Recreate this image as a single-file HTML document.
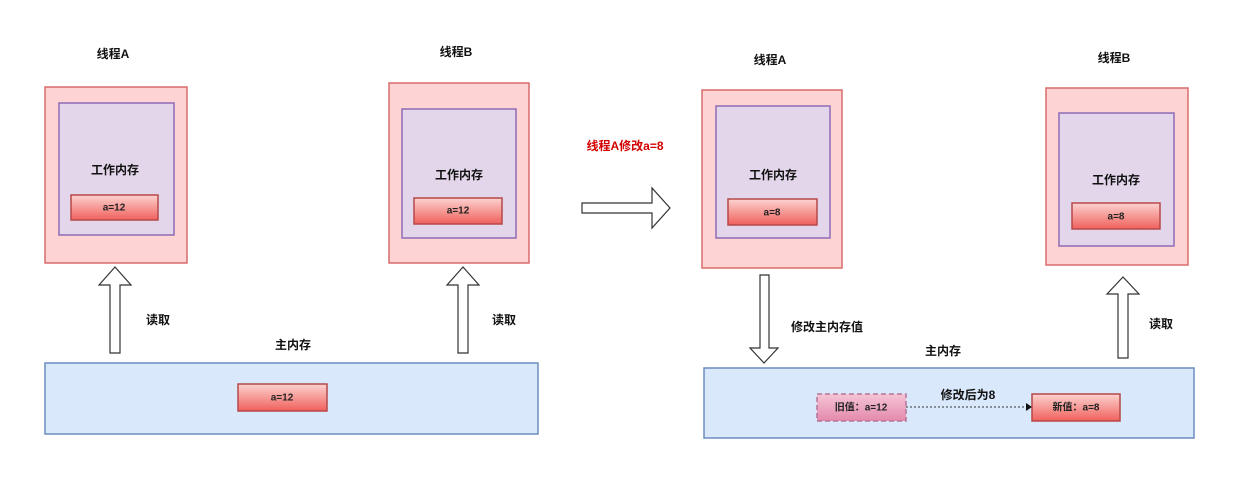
<!DOCTYPE html>
<html><head><meta charset="utf-8"><style>
html,body{margin:0;padding:0;background:#fff;}
svg{display:block;}
text{font-family:"Liberation Sans","Noto Sans CJK SC",sans-serif;font-weight:bold;font-size:12px;fill:#111;text-anchor:middle;dominant-baseline:middle;}
.v{font-size:10px;fill:#222;}
</style></head><body>
<svg width="1240" height="484" viewBox="0 0 1240 484" xmlns="http://www.w3.org/2000/svg">
<defs>
<linearGradient id="rg" x1="0" y1="0" x2="0" y2="1"><stop offset="0" stop-color="#fcd3d0"/><stop offset="1" stop-color="#f0605c"/></linearGradient>
<linearGradient id="pg" x1="0" y1="0" x2="0" y2="1"><stop offset="0" stop-color="#f5c5d6"/><stop offset="1" stop-color="#e489ad"/></linearGradient>
</defs>
<g stroke-width="1.5">
<!-- left thread A -->
<rect x="45" y="87" width="142" height="176" fill="#fdd3d3" stroke="#d86b6b"/>
<rect x="59" y="103" width="115" height="132" fill="#e3d6ea" stroke="#8e6bb5"/>
<rect x="71" y="195" width="87" height="25" fill="url(#rg)" stroke="#b54848"/>
<!-- left thread B -->
<rect x="389" y="83" width="140" height="180" fill="#fdd3d3" stroke="#d86b6b"/>
<rect x="402" y="109" width="114" height="129" fill="#e3d6ea" stroke="#8e6bb5"/>
<rect x="414" y="198" width="88" height="26" fill="url(#rg)" stroke="#b54848"/>
<!-- left main -->
<rect x="45" y="363" width="493" height="71" fill="#dae8fc" stroke="#6c8ebf"/>
<rect x="238" y="384" width="89" height="27" fill="url(#rg)" stroke="#b54848"/>
<!-- right thread A -->
<rect x="702" y="90" width="140" height="178" fill="#fdd3d3" stroke="#d86b6b"/>
<rect x="716" y="106" width="114" height="132" fill="#e3d6ea" stroke="#8e6bb5"/>
<rect x="728" y="199" width="89" height="26" fill="url(#rg)" stroke="#b54848"/>
<!-- right thread B -->
<rect x="1046" y="88" width="142" height="177" fill="#fdd3d3" stroke="#d86b6b"/>
<rect x="1059" y="113" width="115" height="133" fill="#e3d6ea" stroke="#8e6bb5"/>
<rect x="1072" y="203" width="88" height="26" fill="url(#rg)" stroke="#b54848"/>
<!-- right main -->
<rect x="704" y="368" width="490" height="70" fill="#dae8fc" stroke="#6c8ebf"/>
<rect x="817" y="394" width="89" height="27" fill="url(#pg)" stroke="#b5739a" stroke-dasharray="5,3"/>
<rect x="1032" y="394" width="88" height="27" fill="url(#rg)" stroke="#b54848"/>
</g>
<!-- arrows -->
<g fill="#fff" stroke="#333" stroke-width="1.2">
<polygon points="110,353 120,353 120,285 131,285 115,267 99,285 110,285"/>
<polygon points="458,353 468,353 468,285 479,285 463,267 447,285 458,285"/>
<polygon points="582,203 652,203 652,188 670,208 652,228 652,213 582,213"/>
<polygon points="760,275 769,275 769,348 778,348 764,363 750,348 760,348"/>
<polygon points="1118,358 1128,358 1128,294 1139,294 1123,277 1107,294 1118,294"/>
</g>
<line x1="906" y1="407" x2="1026" y2="407" stroke="#333" stroke-width="1" stroke-dasharray="2,2"/>
<polygon points="1026,403 1032,407 1026,411" fill="#111"/>
<!-- text -->
<text x="113" y="55">线程A</text>
<text x="115" y="171">工作内存</text>
<text class="v" x="114" y="208">a=12</text>
<text x="456" y="53">线程B</text>
<text x="459" y="176">工作内存</text>
<text class="v" x="458" y="211">a=12</text>
<text x="158" y="321">读取</text>
<text x="504" y="321">读取</text>
<text x="293" y="346">主内存</text>
<text class="v" x="282" y="398">a=12</text>
<text x="625" y="147" style="fill:#d40000">线程A修改a=8</text>
<text x="770" y="61">线程A</text>
<text x="773" y="176">工作内存</text>
<text class="v" x="772" y="213">a=8</text>
<text x="1114" y="59">线程B</text>
<text x="1116" y="181">工作内存</text>
<text class="v" x="1116" y="217">a=8</text>
<text x="827" y="328">修改主内存值</text>
<text x="1161" y="325">读取</text>
<text x="943" y="352">主内存</text>
<text class="v" x="861" y="408">旧值：a=12</text>
<text x="968" y="396">修改后为8</text>
<text class="v" x="1076" y="408">新值：a=8</text>
</svg>
</body></html>
